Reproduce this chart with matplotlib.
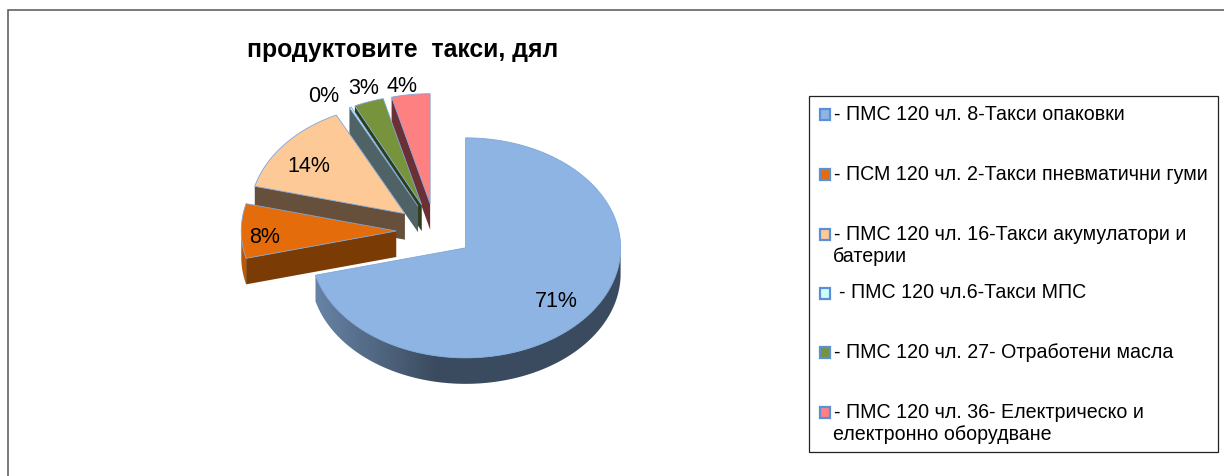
import numpy as np
import matplotlib
matplotlib.use('Agg')
import matplotlib.pyplot as plt
from matplotlib.colors import to_rgb
from matplotlib.patches import Polygon, Rectangle

plt.rcParams['font.family'] = ['Liberation Sans', 'DejaVu Sans']

title = 'продуктовите  такси, дял'
values = [71.0, 8.0, 13.7, 0.2, 3.1, 4.0]
categories = ['- ПМС 120 чл. 8-Такси опаковки',
              '- ПСМ 120 чл. 2-Такси пневматични гуми',
              '- ПМС 120 чл. 16-Такси акумулатори и\nбатерии',
              '- ПМС 120 чл.6-Такси МПС',
              '- ПМС 120 чл. 27- Отработени масла',
              '- ПМС 120 чл. 36- Електрическо и\nелектронно оборудване']

W, H = 1224, 476
cx, cy = 435, 231      # pie centre, px
rx, ry = 155, 110      # px per unit radius
depth = 26 / ry
explode = 0.25

colors = ['#8eb4e3', '#e46c0a', '#fdc996', '#ccffff', '#77933c', '#ff8080']
side_colors = ['#3a4a60', '#7a3c04', '#66503c', '#4f6367', '#2f3d18', '#6a3036']
edge = '#7ea6d8'
# label position, in radii from the slice apex
label_rx = [0.74, 0.85, 0.80, 1.40, 1.10, 1.44]
label_ry = [0.74, 0.00, 0.70, 1.12, 1.14, 1.08]
label_dy = [-0.03, -0.055, -0.01, -0.01, -0.01, -0.01]
draw_order = [5, 4, 3, 2, 1, 0]
legend_y = [114, 174, 234, 293, 352, 412]
legend_x = [834, 834, 834, 839, 834, 834]


def rim_gradient(c, x0, x1):
    # front rim goes from light on the left to dark around the middle
    xx = np.linspace(x0, x1, 200)
    t = np.clip((xx + 1) / 1.0, 0, 1)
    f = 0.82 + (0.42 - 0.82) * t
    return f[None, :, None] * np.array(to_rgb(c))[None, None, :]


fig = plt.figure(figsize=(W / 100, H / 100), dpi=100)

# outer frame, only top and left are in the crop
bg = fig.add_axes([0, 0, 1, 1])
bg.set_xlim(0, W)
bg.set_ylim(H, 0)
bg.axis('off')
bg.plot([7.5, 7.5, W], [H, 9.8, 9.8], color='#555555', lw=1.1, solid_joinstyle='miter')

# pie axes, one data unit = one radius
ax = fig.add_axes([(cx - 2 * rx) / W, 1 - (cy + 1.6 * ry) / H, 4 * rx / W, 3.2 * ry / H])
ax.patch.set_alpha(0)

frac = np.array(values) / sum(values)
ends = np.cumsum(frac) * 2 * np.pi
starts = ends - frac * 2 * np.pi

for i in draw_order:
    a0, a1 = starts[i], ends[i]
    mid = (a0 + a1) / 2
    ox, oy = explode * np.sin(mid), explode * np.cos(mid)
    th = np.linspace(a0, a1, max(int((a1 - a0) * 60), 2))
    xs, ys = ox + np.sin(th), oy + np.cos(th)

    # side face of the start edge, shows when it faces the viewer
    if np.cos(a0) > -0.5 and np.sin(a0) < 0 or i == 1:
        ex, ey = ox + np.sin(a0), oy + np.cos(a0)
        ax.add_patch(Polygon([(ox, oy), (ex, ey), (ex, ey - depth), (ox, oy - depth)],
                             fc=side_colors[i], ec='none', zorder=1))

    # outer rim, front half only, gradient clipped to the rim shape
    front = np.cos(th) < 0.02
    if front.sum() > 1:
        fx, fy = xs[front], ys[front]
        rim = Polygon(np.r_[np.c_[fx, fy], np.c_[fx[::-1], fy[::-1] - depth]],
                      fc='none', ec='none', transform=ax.transData)
        ax.add_patch(rim)
        im = ax.imshow(rim_gradient(colors[i], fx.min(), fx.max()), aspect='auto',
                       extent=[fx.min(), fx.max(), (fy - depth).min(), fy.max()], zorder=1)
        im.set_clip_path(rim)

    ax.add_patch(Polygon(np.r_[[[ox, oy]], np.c_[xs, ys]], fc=colors[i], ec=edge, lw=0.6, zorder=1))

    ax.text(ox + label_rx[i] * np.sin(mid), oy + label_ry[i] * np.cos(mid) + label_dy[i],
            '%.0f%%' % values[i], ha='center', va='center', fontsize=15.5, color='black', zorder=5)

ax.set_xlim(-2, 2)
ax.set_ylim(-1.6, 1.6)
ax.axis('off')

# title
bg.text(403, 50, title, ha='center', va='center', fontsize=17.8, fontweight='bold', color='black')

# legend box
bg.add_patch(Rectangle((808.5, 95.5), 409.5, 356.5, fc='white', ec='#222222', lw=0.9, zorder=3))
for i, lab in enumerate(categories):
    bg.add_patch(Rectangle((819.5, legend_y[i] - 5), 10.5, 10.5, fc=colors[i], ec='#5b8fd6', lw=1.6, zorder=4))
    first, _, rest = lab.partition('\n')
    bg.text(legend_x[i], legend_y[i], first, ha='left', va='center', fontsize=14.1, color='black', zorder=4)
    if rest:
        bg.text(833, legend_y[i] + 22, rest, ha='left', va='center', fontsize=14.1, color='black', zorder=4)

fig.savefig('out.png', dpi=100)
plt.close()
